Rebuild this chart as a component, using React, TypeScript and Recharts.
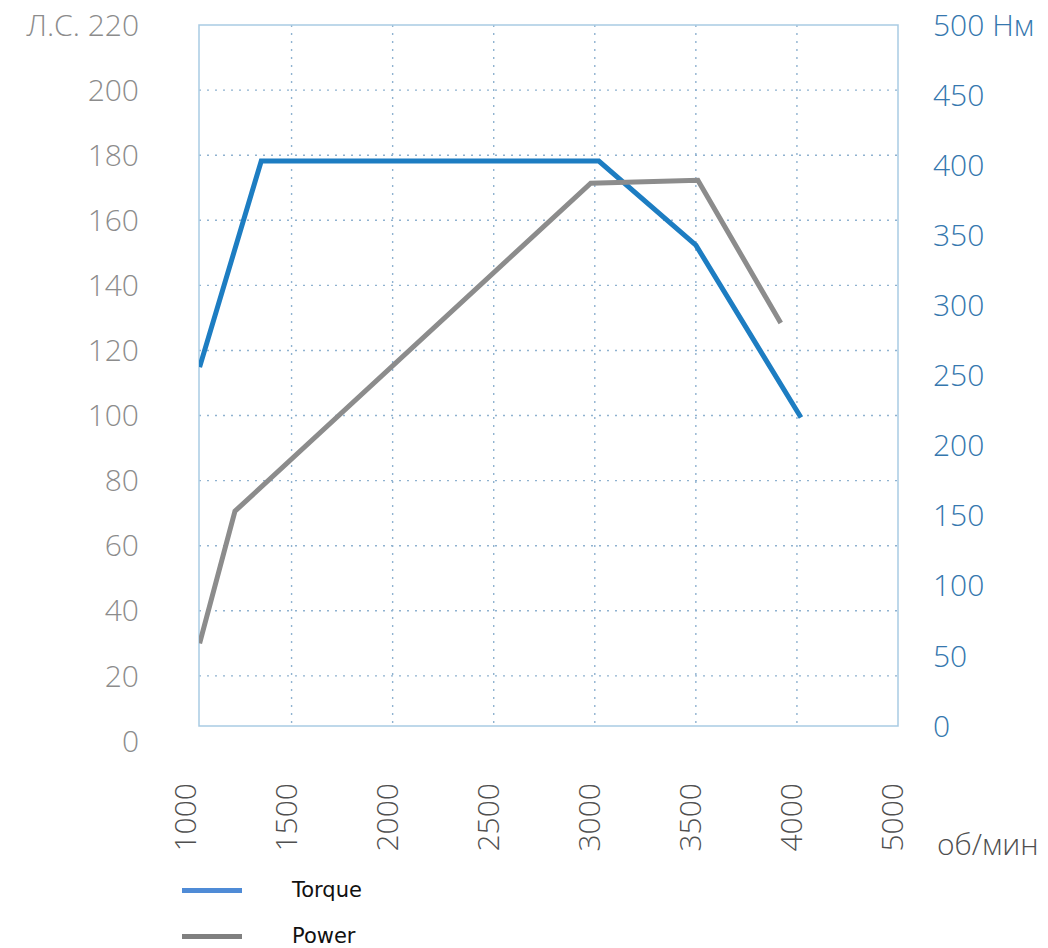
import { LineChart, Line, XAxis, YAxis, CartesianGrid, Legend, ReferenceArea } from "recharts";

// x axis (rpm); the last tick sits at a compressed position and is labelled 5000
const rpmTicks = [1000, 1500, 2000, 2500, 3000, 3500, 4000, 4500];
const rpmTickLabels = ["1000", "1500", "2000", "2500", "3000", "3500", "4000", "5000"];
const rpmGrid = [1500, 2000, 2500, 3000, 3500, 4000];
const rpmDomain = [1042, 4500];

// left axis (л.с.)
const hpTicks = [0, 20, 40, 60, 80, 100, 120, 140, 160, 180, 200, 220];
const hpGrid = [20, 40, 60, 80, 100, 120, 140, 160, 180, 200];
const hpDomain = [4.6, 220];

// right axis (Нм)
const nmTicks = [0, 50, 100, 150, 200, 250, 300, 350, 400, 450, 500];

// series
const torqueRpm = [1045, 1350, 3020, 3500, 4020];
const torqueNm = [256, 403, 403, 343, 220];
const powerRpm = [1045, 1220, 2980, 3510, 3920];
const powerHp = [30, 70.6, 171.4, 172.3, 128.4];

const torqueData = torqueRpm.map((rpm, i) => ({ rpm, nm: torqueNm[i] }));
const powerData = powerRpm.map((rpm, i) => ({ rpm, hp: powerHp[i] }));

const legendOrder = ["Torque", "Power"];
const legendSwatch: Record<string, string> = { Torque: "#4f8bd6", Power: "#808080" };

const tickFont = { fontFamily: "'Open Sans', sans-serif", fontWeight: 300, fontSize: 30 };

const RpmTick = ({ x, y, payload }: any) => {
  const label = rpmTickLabels[rpmTicks.indexOf(payload.value)];
  return (
    <text
      x={x}
      y={y}
      dy={5}
      transform={`rotate(-90 ${x} ${y})`}
      textAnchor="end"
      fill="#4f4f4f"
      style={tickFont}
    >
      {label}
    </text>
  );
};

const RpmUnit = (props: any) => {
  const vb = props.viewBox;
  return (
    <text x={vb.x + vb.width + 39} y={vb.y + 129} fill="#4f4f4f" style={tickFont}>
      об/мин
    </text>
  );
};

const LegendBox = ({ payload }: any) => {
  const items = [...(payload || [])].sort(
    (a: any, b: any) => legendOrder.indexOf(a.value) - legendOrder.indexOf(b.value)
  );
  return (
    <div style={{ position: "relative", height: 90 }}>
      {items.map((entry: any, i: number) => (
        <div
          key={entry.value}
          style={{
            position: "absolute",
            left: 182,
            top: 17 + i * 46,
            height: 30,
            display: "flex",
            alignItems: "center",
          }}
        >
          <span
            style={{
              display: "inline-block",
              width: 60,
              height: 5,
              background: legendSwatch[entry.value] || entry.color,
            }}
          />
          <span
            style={{
              marginLeft: 50,
              fontFamily: "'DejaVu Sans', sans-serif",
              fontSize: 21,
              color: "#111",
            }}
          >
            {entry.value}
          </span>
        </div>
      ))}
    </div>
  );
};

export default function App() {
  return (
    <div style={{ position: "absolute", left: 0, top: 0, background: "#fff" }}>
      <LineChart width={1048} height={948} margin={{ top: 25, right: 0, bottom: 0, left: 0 }}>
        <CartesianGrid
          xAxisId="rpm"
          yAxisId="left"
          horizontalValues={hpGrid}
          verticalValues={rpmGrid}
          stroke="#8fb2d0"
          strokeWidth={1.4}
          strokeDasharray="2 6"
        />
        <ReferenceArea
          xAxisId="rpm"
          yAxisId="left"
          x1={rpmDomain[0]}
          x2={rpmDomain[1]}
          y1={hpDomain[0]}
          y2={hpDomain[1]}
          fill="none"
          stroke="#a9cbe3"
          strokeWidth={1.5}
        />
        <XAxis
          xAxisId="rpm"
          dataKey="rpm"
          type="number"
          domain={rpmDomain}
          allowDataOverflow
          ticks={rpmTicks}
          interval={0}
          height={132}
          axisLine={false}
          tickLine={false}
          tickSize={0}
          tickMargin={57}
          tick={<RpmTick />}
          label={{ content: <RpmUnit /> }}
        />
        <YAxis
          yAxisId="left"
          orientation="left"
          type="number"
          domain={hpDomain}
          allowDataOverflow
          ticks={hpTicks}
          interval={0}
          width={199}
          axisLine={false}
          tickLine={false}
          tickSize={0}
          tickMargin={60}
          tickFormatter={(v: number) => (v === 220 ? "Л.С. 220" : String(v))}
          tick={{ fill: "#8c8c8c", ...tickFont }}
        />
        <YAxis
          yAxisId="right"
          orientation="right"
          type="number"
          domain={[0, 500]}
          ticks={nmTicks}
          interval={0}
          width={150}
          axisLine={false}
          tickLine={false}
          tickSize={0}
          tickMargin={35}
          tickFormatter={(v: number) => (v === 500 ? "500 Нм" : String(v))}
          tick={{ fill: "#3577ae", ...tickFont }}
        />
        <Legend verticalAlign="bottom" align="left" content={<LegendBox />} />
        <Line
          name="Torque"
          data={torqueData}
          dataKey="nm"
          xAxisId="rpm"
          yAxisId="right"
          type="linear"
          stroke="#1d7dc2"
          strokeWidth={5}
          dot={false}
          isAnimationActive={false}
        />
        <Line
          name="Power"
          data={powerData}
          dataKey="hp"
          xAxisId="rpm"
          yAxisId="left"
          type="linear"
          stroke="#8c8c8c"
          strokeWidth={5}
          dot={false}
          isAnimationActive={false}
        />
      </LineChart>
    </div>
  );
}
